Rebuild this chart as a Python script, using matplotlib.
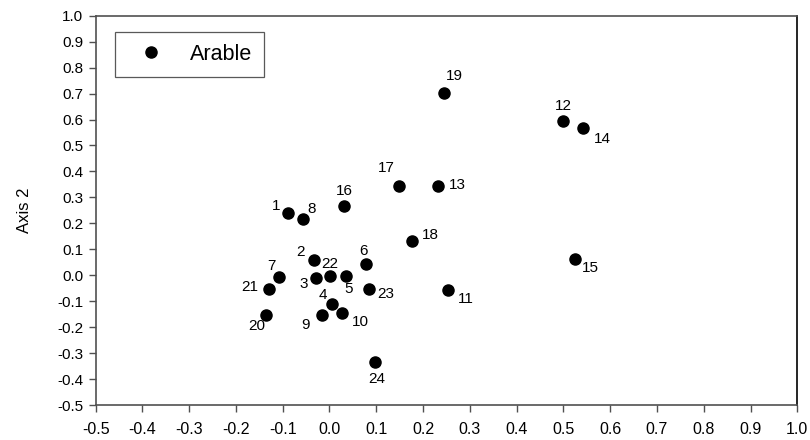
import matplotlib
matplotlib.use("Agg")
import matplotlib.pyplot as plt
from matplotlib.lines import Line2D

plt.rcParams['font.family'] = ['Liberation Sans', 'DejaVu Sans']

## site scores
labels = ['1', '2', '3', '4', '5', '6', '7', '8', '9', '10', '11', '12',
          '13', '14', '15', '16', '17', '18', '19', '20', '21', '22', '23', '24']
axis1 = [-0.088, -0.034, -0.028, 0.006, 0.035, 0.078, -0.107, -0.056, -0.016, 0.026, 0.254, 0.499,
         0.231, 0.543, 0.524, 0.032, 0.148, 0.176, 0.245, -0.136, -0.129, 0.001, 0.085, 0.098]
axis2 = [0.239, 0.057, -0.011, -0.112, -0.003, 0.043, -0.006, 0.217, -0.152, -0.146, -0.058, 0.595,
         0.344, 0.566, 0.061, 0.267, 0.343, 0.131, 0.701, -0.152, -0.053, -0.004, -0.052, -0.333]

# label offsets in pixels (dx right, dy up)
offs = {'1': (-12, 7), '2': (-13, 8), '3': (-13, -6), '4': (-9, 9), '5': (3, -13),
        '6': (-2, 13), '7': (-8, 11), '8': (8, 10), '9': (-16, -10), '10': (19, -9),
        '11': (18, -9), '12': (0, 15), '13': (20, 1), '14': (19, -11), '15': (16, -9),
        '16': (0, 15), '17': (-12, 18), '18': (19, 6), '19': (10, 17), '20': (-9, -11),
        '21': (-19, 2), '22': (0, 12), '23': (17, -5), '24': (1, -17)}

fig = plt.figure(figsize=(8.1, 4.4), dpi=100)
ax = fig.add_axes([0.118, 0.0795, 0.8663, 0.8848])

ax.scatter(axis1, axis2, s=64, color='black', zorder=3)
for lab, x, y in zip(labels, axis1, axis2):
    dx, dy = offs[lab]
    ax.annotate(lab, (x, y), xytext=(dx, dy), textcoords='offset pixels',
                ha='center', va='center', fontsize=11)

ax.set_xlim(-0.5, 1.0)
ax.set_ylim(-0.5, 1.0)
xt = [-0.5 + 0.1 * i for i in range(16)]
ax.set_xticks(xt)
ax.set_yticks(xt)
ax.set_xticklabels(['%.1f' % v for v in xt], family=['Liberation Sans Narrow', 'Liberation Sans'], fontsize=11.5)
ax.set_yticklabels(['%.1f' % v for v in xt], fontsize=11)
ax.tick_params(direction='out', length=5, width=1, color='#505050', pad=4)
ax.tick_params(axis='x', pad=7)
for s in ax.spines.values():
    s.set_color('#505050')
    s.set_linewidth(1.2)
ax.spines['right'].set_color('black')
ax.set_ylabel('Axis 2', fontsize=12, labelpad=18)

h = Line2D([], [], marker='o', color='black', linestyle='none', markersize=8)
leg = ax.legend([h], ['Arable'], loc='upper left', bbox_to_anchor=(0.028, 0.958),
                fontsize=15.5, frameon=True, fancybox=False, handletextpad=0.65,
                borderpad=0.55, handlelength=2.25, borderaxespad=0)
leg.get_frame().set_edgecolor('#303030')
leg.get_frame().set_linewidth(0.9)

fig.savefig('out.png', dpi=100)
